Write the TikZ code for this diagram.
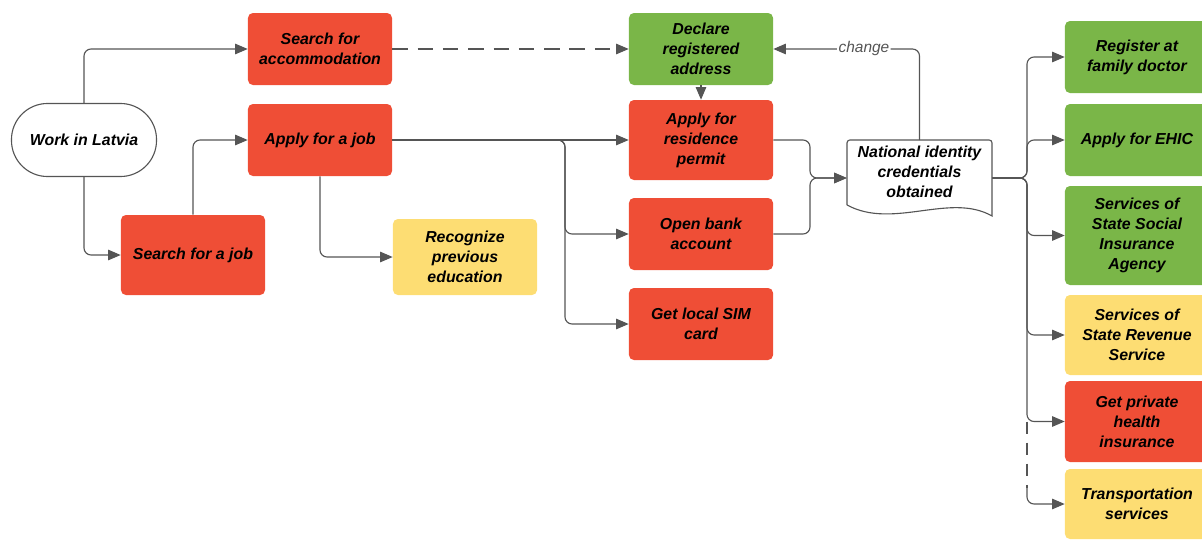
\documentclass[tikz,border=0pt]{standalone}
\usepackage{fontspec}
\setmainfont{Liberation Sans}
\usetikzlibrary{arrows.meta}
\definecolor{boxred}{HTML}{EF4E36}
\definecolor{boxgreen}{HTML}{7AB648}
\definecolor{boxyellow}{HTML}{FDDD73}
\definecolor{linegray}{HTML}{555555}
\tikzset{
    box/.style = {shape = rectangle, rounded corners = 3.5pt, minimum width = 3.6cm,
        align = center, inner sep = 2pt, font = \fontsize{11.3}{14.2}\selectfont\bfseries\itshape},
    conn/.style = {draw = linegray, line width = 0.8pt, rounded corners = 5pt,
        -{Triangle[length = 9pt, width = 7.5pt]}},
}
\begin{document}
\begin{tikzpicture}[x = 0.025cm, y = -0.025cm]
        \useasboundingbox (0,0) rectangle (1202,539);
        %start:
        \node[box, draw = linegray, line width = 0.8pt, fill = white, rounded corners = 0.9cm,
            minimum width = 3.625cm, minimum height = 1.825cm] (work) at (84,140) {Work in Latvia};
        %boxes:
        \foreach \x/\y/\h/\c/\n/\l in {320/49/72/boxred/accom/Search for\\accommodation,
            320/140/72/boxred/ajob/Apply for a job,
            193/255/80/boxred/sjob/Search for a job,
            465/257/76/boxyellow/recog/Recognize\\previous\\education,
            701/49/72/boxgreen/declare/Declare\\registered\\address,
            701/140/80/boxred/resid/Apply for\\residence\\permit,
            701/234/72/boxred/bank/Open bank\\account,
            701/324/72/boxred/sim/Get local SIM\\card,
            1137/57/72/boxgreen/doctor/Register at\\family doctor,
            1137/140/72/boxgreen/ehic/Apply for EHIC,
            1137/235.5/99/boxgreen/ssia/Services of\\State Social\\Insurance\\Agency,
            1137/335/80/boxyellow/srs/Services of\\State Revenue\\Service,
            1137/421.5/81/boxred/private/Get private\\health\\insurance,
            1137/504/70/boxyellow/transport/Transportation\\services}{
            \node[box, fill = \c, minimum height = \h*0.025cm] (\n) at (\x,\y) {\l};
        }
        %document:
        \node[box, minimum width = 3.625cm, minimum height = 1.6cm] (nat) at (919.5,172)
            {National identity\\credentials\\obtained};
        \draw[linegray, line width = 0.8pt] (847,205) [rounded corners = 2pt] -- (847,140) -- (992,140)
            [sharp corners] -- (992,216) .. controls (950,192) and (893,230) .. (847,205);
        \coordinate (nattop) at (919.5,140);
        \coordinate (split) at (565,140);
        \coordinate (merge) at (810,178);
        \coordinate (fork) at (1027,178);
        \coordinate (dashend) at (1027,488);

        \draw[conn] (work.north) |- (accom.west);
        \draw[conn] (work.south) |- (sjob.west);
        \draw[conn] (sjob.north) |- (ajob.west);
        \draw[conn] (ajob.south) |- (recog.west);
        \draw[conn, dash pattern = on 11pt off 7pt] (accom) -- (declare);
        \draw[conn] (ajob.east) -- (resid.west);
        \foreach \n in {bank,sim}{
            \draw[conn] (ajob.east) -- (split) |- (\n.west);
        }
        \draw[conn] (declare.south) -- (resid.north);
        \foreach \n in {resid,bank}{
            \draw[conn] (\n.east) -| (merge) -- (merge -| nat.west);
        }
        \draw[conn] (nattop) |- node[pos = 0.69, fill = white, inner sep = 1pt,
            font = \fontsize{11}{13}\selectfont\itshape, text = linegray] {change} (declare.east);
        \foreach \n in {doctor,ehic,ssia,srs,private}{
            \draw[conn] (fork -| nat.east) -- (fork) |- (\n.west);
        }
        \draw[linegray, line width = 0.8pt, dash pattern = on 9pt off 6pt] (fork |- private.west) -- (dashend);
        \draw[conn] (dashend) |- (transport.west);
    \end{tikzpicture}
\end{document}
